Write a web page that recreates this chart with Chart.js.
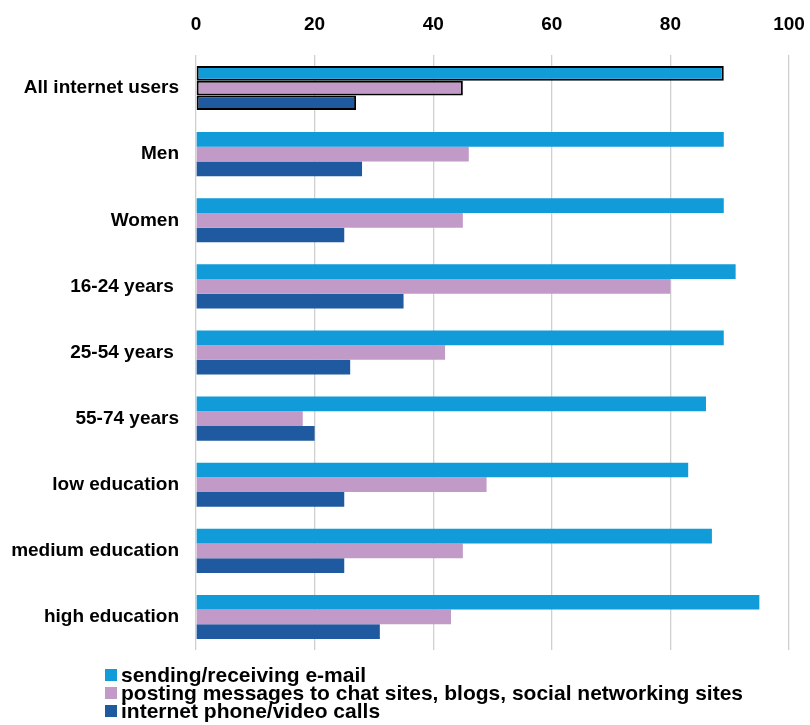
<!DOCTYPE html>
<html>
<head>
<meta charset="utf-8">
<script src="https://cdn.jsdelivr.net/npm/chart.js@4.4.1/dist/chart.umd.min.js"></script>
<style>
  html, body { margin: 0; padding: 0; background: #fff; }
  #wrap { position: relative; width: 810px; height: 725px; }
  #wrap canvas { position: absolute; left: 0; top: 0; }
  #legend {
    position: absolute; left: 105px; top: 666px;
    font-family: "Liberation Sans", Arial, sans-serif;
    font-weight: bold; font-size: 21px; line-height: 18px; color: #000;
  }
  #legend .item { display: flex; align-items: center; white-space: nowrap; }
  #legend .box { width: 12px; height: 12px; margin-right: 4px; flex: none; }
</style>
</head>
<body>
<div id="wrap">
  <canvas id="chart" width="810" height="725"></canvas>
  <div id="legend"></div>
</div>
<script>
const categories = [
  'All internet users', 'Men', 'Women', '16-24 years ', '25-54 years ',
  '55-74 years', 'low education', 'medium education', 'high education'
];
const seriesNames = [
  'sending/receiving e-mail',
  'posting messages to chat sites, blogs, social networking sites',
  'internet phone/video calls'
];
const emailValues   = [89, 89, 89, 91, 89, 86, 83, 87, 95];
const postingValues = [45, 46, 45, 80, 42, 18, 49, 45, 43];
const callValues    = [27, 28, 25, 35, 26, 20, 25, 25, 31];
const xTicks = [0, 20, 40, 60, 80, 100];

const colors = ['#119bd8', '#c19ac7', '#1f5aa0'];
const FONT = '"Liberation Sans", Arial, sans-serif';

// the first group (all users) is outlined in black
const outline = ctx => ctx.dataIndex === 0 ? '#000000' : 'rgba(0,0,0,0)';
const outlineWidth = ctx => ctx.dataIndex === 0 ? 2 : 0;

const datasets = [emailValues, postingValues, callValues].map((vals, i) => ({
  label: seriesNames[i],
  data: vals,
  backgroundColor: colors[i],
  borderColor: outline,
  borderWidth: outlineWidth,
  borderSkipped: false,
  barPercentage: 1,
  categoryPercentage: 0.667
}));

const chart = new Chart(document.getElementById('chart'), {
  type: 'bar',
  data: { labels: categories, datasets },
  options: {
    indexAxis: 'y',
    responsive: false,
    animation: false,
    layout: { padding: { top: 0, right: 21, bottom: 75, left: 0 } },
    plugins: { legend: { display: false }, tooltip: { enabled: false } },
    scales: {
      x: {
        position: 'top',
        min: 0, max: 100,
        afterBuildTicks: s => { s.ticks = xTicks.map(v => ({ value: v })); },
        afterFit: s => { s.height = 55; s.paddingLeft = 0; s.paddingRight = 0; },
        grid: { color: '#d0d0d0', lineWidth: 1.3, drawTicks: false },
        border: { display: false },
        ticks: { color: '#000', padding: 19, font: { family: FONT, size: 19, weight: 'bold' } }
      },
      y: {
        afterFit: s => { s.width = 196; },
        grid: { display: false },
        border: { display: false },
        ticks: { color: '#000', padding: 9, font: { family: FONT, size: 19, weight: 'bold' } }
      }
    }
  }
});

// legend list built from the chart's own datasets
const legendEl = document.getElementById('legend');
chart.data.datasets.forEach(ds => {
  const row = document.createElement('div');
  row.className = 'item';
  const box = document.createElement('span');
  box.className = 'box';
  box.style.background = ds.backgroundColor;
  const txt = document.createElement('span');
  txt.textContent = ds.label;
  row.appendChild(box);
  row.appendChild(txt);
  legendEl.appendChild(row);
});
</script>
</body>
</html>
